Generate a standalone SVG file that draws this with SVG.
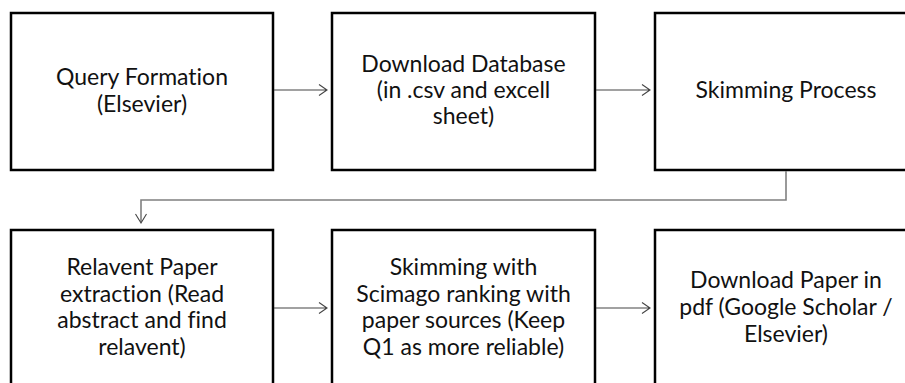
<svg xmlns="http://www.w3.org/2000/svg" width="905" height="383" viewBox="0 0 905 383">
<style>
.box{fill:#fff;stroke:#000;stroke-width:2.5}
.t{font-family:Lato,"Open Sans","Liberation Sans",sans-serif;font-size:23px;fill:#111;text-anchor:middle;font-variant-ligatures:none}
.ar{fill:none;stroke:#444;stroke-width:1.1}
.cn{fill:none;stroke:#808080;stroke-width:1.6}
</style>
<rect width="905" height="383" fill="#fff"/>
<g id="n1"><rect class="box" x="11" y="13" width="262" height="157"/>
<text class="t" x="142" y="85">Query Formation</text><text class="t" x="142" y="112">(Elsevier)</text></g>
<g id="n2"><rect class="box" x="332" y="13" width="263" height="157"/>
<text class="t" x="463.5" y="72">Download Database</text><text class="t" x="463.5" y="98">(in .csv and excell</text><text class="t" x="463.5" y="124">sheet)</text></g>
<g id="n3"><rect class="box" x="655" y="13" width="262" height="157"/>
<text class="t" x="786" y="98">Skimming Process</text></g>
<g id="n4"><rect class="box" x="11" y="230" width="262" height="165"/>
<text class="t" x="142" y="275">Relavent Paper</text><text class="t" x="142" y="302">extraction (Read</text><text class="t" x="142" y="328">abstract and find</text><text class="t" x="142" y="355">relavent)</text></g>
<g id="n5"><rect class="box" x="332" y="230" width="263" height="165"/>
<text class="t" x="463.5" y="275">Skimming with</text><text class="t" x="463.5" y="302">Scimago ranking with</text><text class="t" x="463.5" y="328">paper sources (Keep</text><text class="t" x="463.5" y="355">Q1 as more reliable)</text></g>
<g id="n6"><rect class="box" x="655" y="230" width="262" height="165"/>
<text class="t" x="786" y="288">Download Paper in</text><text class="t" x="786" y="315">pdf (Google Scholar /</text><text class="t" x="786" y="342">Elsevier)</text></g>
<g id="connectors">
<path class="ar" d="M274 90H327M319 84.5L327 90L319 95.5"/>
<path class="ar" d="M596 90H650M642 84.5L650 90L642 95.5"/>
<path class="cn" d="M786 171V200H141V222"/>
<path class="ar" d="M135.5 214L141 223L146.5 214"/>
<path class="ar" d="M274 308H327M319 302.5L327 308L319 313.5"/>
<path class="ar" d="M596 308H650M642 302.5L650 308L642 313.5"/>
</g>
</svg>
